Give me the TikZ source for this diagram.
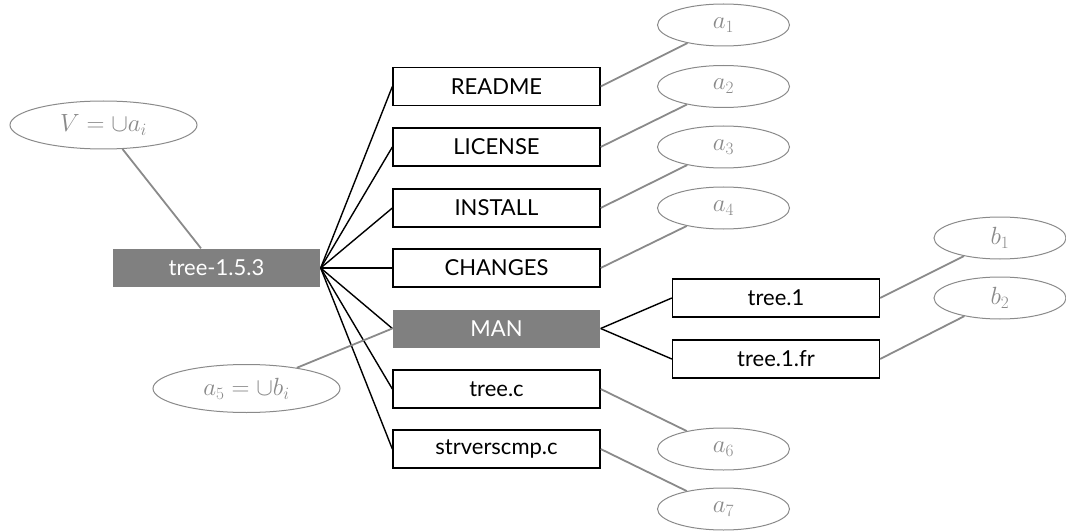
\documentclass[tikz,border=0pt]{standalone}
\usepackage{fontspec}
\setmainfont{Lato}
\usetikzlibrary{shapes.geometric}
\definecolor{tgray}{HTML}{808080}
\definecolor{lgray}{HTML}{8A8A8A}
\tikzset{
  filebox/.style={draw=black, line width=1.3pt, minimum width=207pt, minimum height=38pt,
    inner sep=0pt, font=\fontsize{22}{26}\selectfont},
  dirbox/.style={filebox, draw=none, fill=tgray, text=white},
  setlbl/.style={ellipse, draw=lgray, line width=1pt, text=lgray, inner sep=0pt,
    minimum width=132pt, minimum height=42pt, font=\fontsize{23}{27}\selectfont},
  biglbl/.style={setlbl, minimum width=187pt, minimum height=48pt},
  branch/.style={draw=black, line width=1.4pt},
  note/.style={draw=lgray, line width=1.8pt}
}
\begin{document}
\begin{tikzpicture}[x=1pt,y=-1pt]
\useasboundingbox (0,0) rectangle (1066,532);
% directory tree
\node[dirbox]  (root)  at (216.5,268) {tree-1.5.3};
\node[filebox] (readme) at (496.5,86.5) {README};
\node[filebox] (lic)    at (496.5,147) {LICENSE};
\node[filebox] (inst)   at (496.5,208) {INSTALL};
\node[filebox] (chg)    at (496.5,268) {CHANGES};
\node[dirbox]  (man)    at (496.5,328.5) {MAN};
\node[filebox] (treec)  at (496.5,389) {tree.c};
\node[filebox] (strv)   at (496.5,449) {strverscmp.c};
\node[filebox] (t1)     at (776,298) {tree.1};
\node[filebox] (t1fr)   at (776,359) {tree.1.fr};
% set labels
\node[biglbl] (V)  at (103.5,125) {$V=\cup a_i$};
\node[biglbl] (a5) at (246.5,388.5) {$a_5=\cup b_i$};
\node[setlbl] (a1) at (723.5,25) {$a_1$};
\node[setlbl] (a2) at (723.5,86.5) {$a_2$};
\node[setlbl] (a3) at (723.5,147) {$a_3$};
\node[setlbl] (a4) at (723.5,208) {$a_4$};
\node[setlbl] (a6) at (723.5,449) {$a_6$};
\node[setlbl] (a7) at (723.5,509) {$a_7$};
\node[setlbl] (b1) at (1000,238) {$b_1$};
\node[setlbl] (b2) at (1000,298) {$b_2$};
% branches
\foreach \n in {readme,lic,inst,chg,man,treec,strv}
  \draw[branch] (root.east) -- (\n.west);
\draw[branch] (man.east) -- (t1.west);
\draw[branch] (man.east) -- (t1fr.west);
% label connectors
\draw[note] (root) -- (V);
\draw[note] (man.west) -- (a5);
\draw[note] (readme.east) -- (a1);
\draw[note] (lic.east) -- (a2);
\draw[note] (inst.east) -- (a3);
\draw[note] (chg.east) -- (a4);
\draw[note] (treec.east) -- (a6);
\draw[note] (strv.east) -- (a7);
\draw[note] (t1.east) -- (b1);
\draw[note] (t1fr.east) -- (b2);
\end{tikzpicture}
\end{document}
